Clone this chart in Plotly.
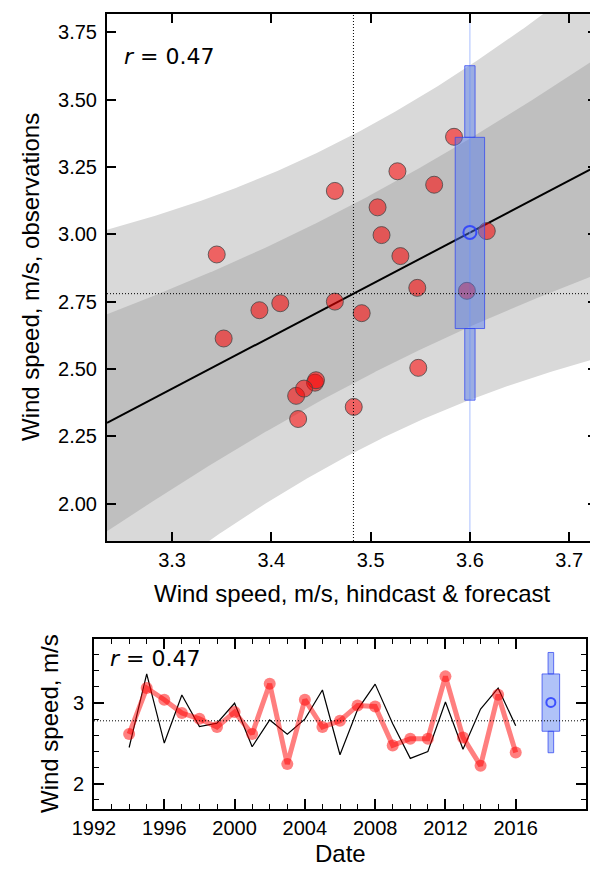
import numpy as np
import plotly.graph_objects as go

# ---------------- data ----------------
years = list(range(1994, 2017))
hindcast = [3.444, 3.584, 3.548, 3.507, 3.491, 3.464, 3.511, 3.445, 3.597, 3.352, 3.547, 3.464,
            3.483, 3.530, 3.527, 3.409, 3.427, 3.425, 3.617, 3.433, 3.345, 3.564, 3.388]
observations = [2.449, 3.362, 2.504, 3.100, 2.707, 2.750, 2.997, 2.458, 2.790, 2.613, 2.801, 3.161,
                2.359, 2.919, 3.234, 2.744, 2.314, 2.400, 3.012, 2.427, 2.925, 3.184, 2.718]
hindcast_rescaled = [2.616, 3.186, 3.041, 2.876, 2.805, 2.703, 2.888, 2.616, 3.239, 2.244, 3.041, 2.703,
                     2.781, 2.970, 2.958, 2.475, 2.558, 2.558, 3.330, 2.574, 2.223, 3.103, 2.388]
forecast_x = 3.60
forecast_year = 2018
forecast_quantiles = [2.384, 2.650, 3.007, 3.360, 3.626]  # 5, 25, 50, 75, 95 %
r_label = "0.47"

top_xticks = [3.3, 3.4, 3.5, 3.6, 3.7]
top_yticks = [2.00, 2.25, 2.50, 2.75, 3.00, 3.25, 3.50, 3.75]
bot_xticks = [1992, 1996, 2000, 2004, 2008, 2012, 2016]
bot_xminor = [y for y in range(1993, 2017) if y not in bot_xticks]
bot_yticks = [2, 3]

# ---------------- styling ----------------
OFF = 8                      # page body margin
W, H = 598 - OFF, 869 - OFF


def fx(p):
    return (p - OFF) / W


def fy(p):
    return 1 - (p - OFF) / H


TOP_X = [3.2345, 3.728]
TOP_Y = [1.861, 3.818]
BOT_X = [1992, 2020]
BOT_Y = [1.687, 3.793]
FONT = "Liberation Sans, Arial, sans-serif"
RED_PT = "rgba(255,0,0,0.55)"
RED_LN = "rgba(255,0,0,0.5)"
BOX_FILL = "rgba(80,120,240,0.45)"
BOX_EDGE = "rgba(50,70,240,0.75)"

x = np.array(hindcast)
y = np.array(observations)
n = len(x)
slope, intercept = np.polyfit(x, y, 1)
resid = y - (intercept + slope * x)
s = np.sqrt(np.sum(resid ** 2) / (n - 2))
xm, ym = x.mean(), y.mean()
Sxx = np.sum((x - xm) ** 2)

xs = np.linspace(TOP_X[0], TOP_X[1], 300)
pred = intercept + slope * xs
se = s * np.sqrt(1 + 1 / n + (xs - xm) ** 2 / Sxx)

fig = go.Figure()


def band(mult, color):
    lo = pred - mult * se
    hi = pred + mult * se
    fig.add_trace(go.Scatter(x=np.concatenate([xs, xs[::-1]]), y=np.concatenate([hi, lo[::-1]]),
                             fill="toself", fillcolor=color, line=dict(width=0), mode="lines",
                             hoverinfo="skip", showlegend=False, xaxis="x", yaxis="y"))


band(2.08, "#d9d9d9")
band(1.17, "#bfbfbf")

# regression line
fig.add_trace(go.Scatter(x=xs, y=pred, mode="lines", line=dict(color="black", width=2),
                         showlegend=False, xaxis="x", yaxis="y"))

# forecast vertical line
fig.add_trace(go.Scatter(x=[forecast_x, forecast_x], y=TOP_Y, mode="lines",
                         line=dict(color="rgba(140,170,255,0.75)", width=1),
                         showlegend=False, xaxis="x", yaxis="y"))

# scatter points
fig.add_trace(go.Scatter(x=hindcast, y=observations, mode="markers",
                         marker=dict(size=17, color=RED_PT, line=dict(color="rgba(70,70,70,0.8)", width=1)),
                         showlegend=False, xaxis="x", yaxis="y"))


def rect(xc, half, y0, y1, xa, ya):
    fig.add_trace(go.Scatter(x=[xc - half, xc + half, xc + half, xc - half, xc - half],
                             y=[y0, y0, y1, y1, y0], mode="lines", fill="toself",
                             fillcolor=BOX_FILL, line=dict(color=BOX_EDGE, width=1),
                             showlegend=False, xaxis=xa, yaxis=ya))


def boxplot(xc, wide, narrow, xa, ya, msize):
    q = forecast_quantiles
    rect(xc, narrow, q[0], q[1], xa, ya)
    rect(xc, narrow, q[3], q[4], xa, ya)
    rect(xc, wide, q[1], q[3], xa, ya)
    fig.add_trace(go.Scatter(x=[xc], y=[q[2]], mode="markers",
                             marker=dict(size=msize, color="rgba(0,0,0,0)",
                                         line=dict(color="rgba(40,60,255,0.85)", width=2)),
                             showlegend=False, xaxis=xa, yaxis=ya))


boxplot(forecast_x, 0.0148, 0.0052, "x", "y", 13)

# ---------------- bottom panel ----------------
fig.add_trace(go.Scatter(x=years, y=observations, mode="lines", line=dict(color="black", width=1.2),
                         showlegend=False, xaxis="x2", yaxis="y2"))
fig.add_trace(go.Scatter(x=years, y=hindcast_rescaled, mode="lines+markers",
                         line=dict(color=RED_LN, width=5),
                         marker=dict(size=12, color=RED_LN),
                         showlegend=False, xaxis="x2", yaxis="y2"))
boxplot(forecast_year, 0.5, 0.16, "x2", "y2", 9)

DOT = "1px,2px"
shapes = [
    dict(type="line", xref="x", yref="y domain", x0=xm, x1=xm, y0=0, y1=1,
         line=dict(color="black", width=1, dash=DOT), layer="above"),
    dict(type="line", xref="x domain", yref="y", x0=0, x1=1, y0=ym, y1=ym,
         line=dict(color="black", width=1, dash=DOT), layer="above"),
    dict(type="line", xref="x2 domain", yref="y2", x0=0, x1=1, y0=ym, y1=ym,
         line=dict(color="black", width=1, dash=DOT), layer="above"),
]

axis_common = dict(showline=True, linewidth=2, linecolor="black", mirror="ticks", ticks="inside",
                   tickwidth=1.5, tickcolor="black", showgrid=False, zeroline=False, automargin=False,
                   tickfont=dict(family=FONT, size=20, color="black"))

TITLE_FONT = dict(family=FONT, size=24, color="black")
R_FONT = dict(family="DejaVu Sans", size=22, color="black")

fig.update_layout(
    template="none",
    width=W, height=H, margin=dict(l=0, r=0, t=0, b=0, pad=0, autoexpand=False),
    paper_bgcolor="white", plot_bgcolor="white", showlegend=False,
    font=dict(family=FONT, color="black"),
    xaxis=dict(domain=[fx(107), fx(597)], range=TOP_X, anchor="y", tickmode="array",
               tickvals=top_xticks, ticktext=[f"{v:.1f}" for v in top_xticks], ticklen=9, **axis_common),
    yaxis=dict(domain=[fy(541), fy(14)], range=TOP_Y, anchor="x", tickmode="array",
               tickvals=top_yticks, ticktext=[f"{v:.2f}" for v in top_yticks], ticklen=9,
               ticklabelstandoff=4, **axis_common),
    xaxis2=dict(domain=[fx(94), fx(586)], range=BOT_X, anchor="y2", tickmode="array",
                tickvals=bot_xticks, ticktext=[str(v) for v in bot_xticks], ticklen=10,
                minor=dict(tickmode="array", tickvals=bot_xminor, ticklen=5, ticks="inside",
                           tickwidth=1.2, tickcolor="black"),
                **axis_common),
    yaxis2=dict(domain=[fy(809), fy(639)], range=BOT_Y, anchor="x2", tickmode="array",
                tickvals=bot_yticks, ticktext=[str(v) for v in bot_yticks], ticklen=10,
                ticklabelstandoff=4,
                minor=dict(dtick=0.2, ticklen=5, ticks="inside", tickwidth=1.2, tickcolor="black"),
                **axis_common),
    shapes=shapes,
    annotations=[
        dict(text=f"<i>r</i> = {r_label}", x=fx(122), y=fy(57), xref="paper", yref="paper",
             xanchor="left", yanchor="middle", showarrow=False, font=R_FONT),
        dict(text=f"<i>r</i> = {r_label}", x=fx(108), y=fy(658), xref="paper", yref="paper",
             xanchor="left", yanchor="middle", showarrow=False, font=R_FONT),
        dict(text="Wind speed, m/s, hindcast & forecast", x=fx(352), y=fy(593), xref="paper",
             yref="paper", xanchor="center", yanchor="middle", showarrow=False, font=TITLE_FONT),
        dict(text="Wind speed, m/s, observations", x=fx(30), y=fy(277), xref="paper",
             yref="paper", xanchor="center", yanchor="middle", showarrow=False, textangle=-90,
             font=TITLE_FONT),
        dict(text="Wind speed, m/s", x=fx(49), y=fy(724), xref="paper",
             yref="paper", xanchor="center", yanchor="middle", showarrow=False, textangle=-90,
             font=TITLE_FONT),
        dict(text="Date", x=fx(340), y=fy(853), xref="paper", borderpad=0,
             yref="paper", xanchor="center", yanchor="middle", showarrow=False, font=TITLE_FONT),
    ],
)

fig.write_html("out.html")
